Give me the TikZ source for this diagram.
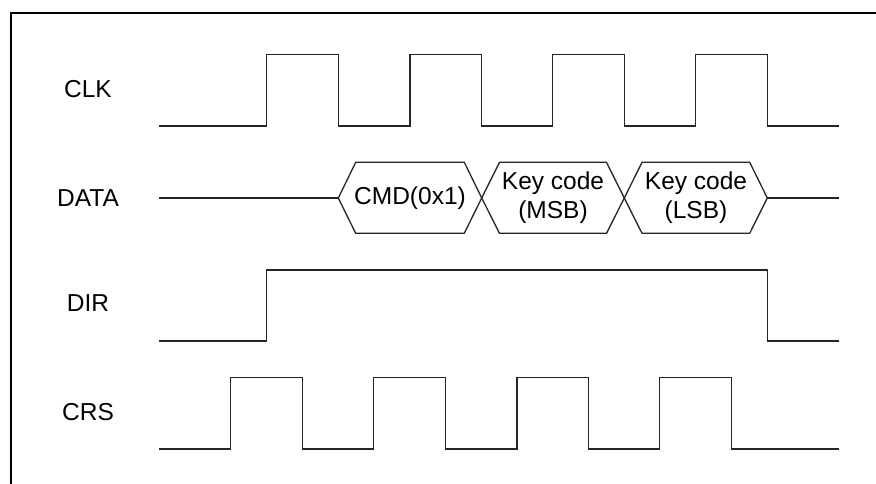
\documentclass[tikz,border=0pt]{standalone}
\usepackage{fontspec}
\setmainfont{Liberation Sans}
\begin{document}
\begin{tikzpicture}[x=1pt,y=-1pt,
  sig/.style={line width=1.3pt, black!85},
  frame/.style={line width=2.2pt, black},
  lbl/.style={font=\fontsize{24.5}{29}\selectfont, inner sep=0pt, align=center}]
\useasboundingbox (0,0) rectangle (876,484);
% frame (top and left edges)
\draw[frame] (876,12.7) -- (11,12.7) -- (11,484);
% labels
\node[lbl] (lclk) at (88,89.5) {CLK};
\node[lbl] (ldata) at (88,198) {DATA};
\node[lbl] (ldir) at (88,303) {DIR};
\node[lbl] (lcrs) at (88,412.5) {CRS};
% CLK
\draw[sig] (159,126) -- (266.7,126) -- (266.7,54.3) -- (338.3,54.3) -- (338.3,126)
  -- (410,126) -- (410,54.3) -- (481.5,54.3) -- (481.5,126)
  -- (552.5,126) -- (552.5,54.3) -- (624.3,54.3) -- (624.3,126)
  -- (695.7,126) -- (695.7,54.3) -- (767.3,54.3) -- (767.3,126) -- (839,126);
% DATA
\draw[sig] (159,198) -- (338.3,198);
\draw[sig] (338.3,198) -- (355.7,162.3) -- (464.3,162.3) -- (481.7,198) -- (464.3,233.3) -- (355.7,233.3) -- cycle;
\draw[sig] (481.7,198) -- (499.5,162.3) -- (606.5,162.3) -- (624.3,198) -- (606.5,233.3) -- (499.5,233.3) -- cycle;
\draw[sig] (624.3,198) -- (642,162.3) -- (749.7,162.3) -- (767.3,198) -- (749.7,233.3) -- (642,233.3) -- cycle;
\draw[sig] (767.3,198) -- (839,198);
\node[lbl] (d1) at (410,198) {CMD(0x1)};
\node[lbl] (d2) at (553,198) {Key code\\(MSB)};
\node[lbl] (d3) at (696,198) {Key code\\(LSB)};
% DIR
\draw[sig] (159,341) -- (266.7,341) -- (266.7,270) -- (767.3,270) -- (767.3,341) -- (839,341);
% CRS
\draw[sig] (159,449) -- (230.7,449) -- (230.7,377.3) -- (302.5,377.3) -- (302.5,449)
  -- (373.7,449) -- (373.7,377.3) -- (445.7,377.3) -- (445.7,449)
  -- (517,449) -- (517,377.3) -- (588.7,377.3) -- (588.7,449)
  -- (659.7,449) -- (659.7,377.3) -- (731.7,377.3) -- (731.7,449) -- (839,449);
\end{tikzpicture}
\end{document}
